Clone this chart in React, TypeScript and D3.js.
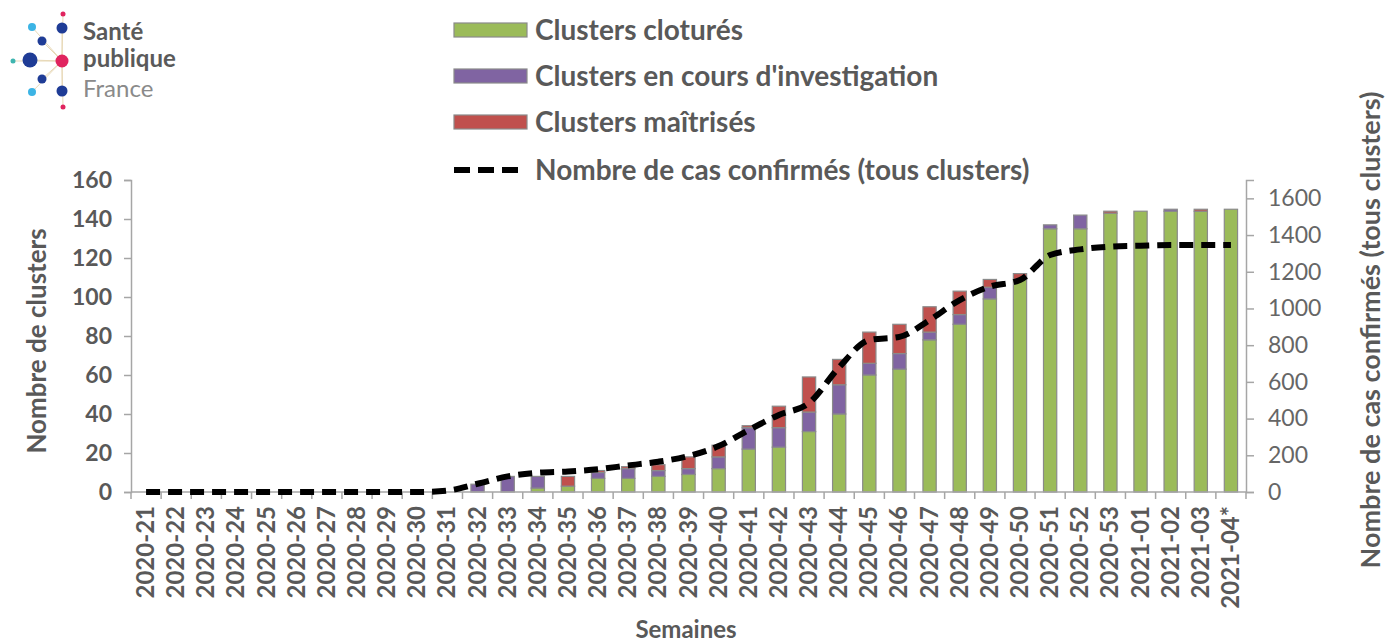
import React, { useEffect, useRef } from "react";
import * as d3 from "d3";

// weeks on the x axis
const weeks = [
  "2020-21", "2020-22", "2020-23", "2020-24", "2020-25", "2020-26", "2020-27",
  "2020-28", "2020-29", "2020-30", "2020-31", "2020-32", "2020-33", "2020-34",
  "2020-35", "2020-36", "2020-37", "2020-38", "2020-39", "2020-40", "2020-41",
  "2020-42", "2020-43", "2020-44", "2020-45", "2020-46", "2020-47", "2020-48",
  "2020-49", "2020-50", "2020-51", "2020-52", "2020-53", "2021-01", "2021-02",
  "2021-03", "2021-04*",
];

// stacked bar series (number of clusters)
const closed = [
  0, 0, 0, 0, 0, 0, 0, 0, 0, 0, 0, 0, 0, 2, 3, 7, 7, 8, 9, 12, 22, 23, 31, 40,
  60, 63, 78, 86, 99, 109, 135, 135, 143, 144, 144, 144, 145,
];
const investigating = [
  0, 0, 0, 0, 0, 0, 0, 0, 0, 0, 0, 4, 8, 6, 0, 3, 5, 3, 3, 6, 11, 10, 10, 15,
  6, 8, 4, 5, 6, 0, 2, 7, 0, 0, 1, 0, 0,
];
const controlled = [
  0, 0, 0, 0, 0, 0, 0, 0, 0, 0, 0, 0, 0, 0, 5, 1, 1, 3, 6, 6, 1, 11, 18, 13,
  16, 15, 13, 12, 4, 3, 0, 0, 1, 0, 0, 1, 0,
];

// confirmed cases, right axis
const cases = [
  0, 0, 0, 0, 0, 0, 0, 0, 0, 0, 8, 45, 85, 105, 112, 124, 145, 165, 196, 250,
  338, 420, 485, 680, 828, 845, 937, 1046, 1119, 1155, 1291, 1322, 1337, 1342,
  1346, 1346, 1346,
];

const leftTicks = [0, 20, 40, 60, 80, 100, 120, 140, 160];
const rightTicks = [0, 200, 400, 600, 800, 1000, 1200, 1400, 1600];

const seriesNames = [
  "Clusters clotur\u00e9s",
  "Clusters en cours d'investigation",
  "Clusters ma\u00eetris\u00e9s",
  "Nombre de cas confirm\u00e9s (tous clusters)",
];
const colors = ["#9BBB59", "#8064A2", "#C0504D"];

const FONT = "Lato, 'Open Sans', sans-serif";
const GREY = "#595959";

const App: React.FC = () => {
  const svgRef = useRef<SVGSVGElement | null>(null);

  useEffect(() => {
    if (!svgRef.current) return;
    const svg = d3.select(svgRef.current);
    svg.selectAll("*").remove();

    const plot = { left: 131, right: 1246, top: 180, bottom: 492 };

    const x = d3.scaleBand<string>()
      .domain(weeks)
      .range([plot.left, plot.right])
      .paddingInner(0.56)
      .paddingOuter(0.28);

    const xBand = d3.scaleBand<string>().domain(weeks).range([plot.left, plot.right]);

    const yL = d3.scaleLinear().domain([0, 160]).range([plot.bottom, plot.top]);
    const yR = d3.scaleLinear().domain([0, 1700]).range([plot.bottom, plot.top]);

    // stack
    const rows = weeks.map((w, i) => ({
      week: w,
      closed: closed[i],
      investigating: investigating[i],
      controlled: controlled[i],
    }));
    const stack = d3.stack<any>().keys(["closed", "investigating", "controlled"]);
    const layers = stack(rows);

    layers.forEach((layer, li) => {
      svg.append("g")
        .selectAll("rect")
        .data(layer.filter(d => d[1] - d[0] > 0))
        .enter()
        .append("rect")
        .attr("x", d => x(d.data.week)!)
        .attr("width", x.bandwidth())
        .attr("y", d => yL(d[1]))
        .attr("height", d => yL(d[0]) - yL(d[1]))
        .attr("fill", colors[li])
        .attr("stroke", "#8a8a8a")
        .attr("stroke-width", 1.2);
    });

    // left axis
    const axL = svg.append("g")
      .attr("transform", `translate(${plot.left},0)`)
      .call(d3.axisLeft(yL).tickValues(leftTicks).tickSize(7).tickPadding(12));
    axL.select(".domain").attr("stroke", "#a6a6a6").attr("stroke-width", 1.5);
    axL.selectAll(".tick line").attr("stroke", "#a6a6a6").attr("stroke-width", 1.5);
    axL.selectAll("text")
      .attr("fill", GREY)
      .style("font-family", FONT)
      .style("font-size", "23px")
      .style("font-weight", "bold");

    // right axis
    const axR = svg.append("g")
      .attr("transform", `translate(${plot.right},0)`)
      .call(d3.axisRight(yR).tickValues(rightTicks).tickFormat(d3.format("d")).tickSize(8).tickPadding(14));
    axR.select(".domain").attr("stroke", "#a6a6a6").attr("stroke-width", 1.5);
    axR.selectAll(".tick line").attr("stroke", "#a6a6a6").attr("stroke-width", 1.5);
    axR.selectAll("text")
      .attr("fill", "#666")
      .style("font-family", FONT)
      .style("font-size", "23px");

    // bottom axis
    const axB = svg.append("g").attr("transform", `translate(0,${plot.bottom})`);
    axB.append("line")
      .attr("x1", plot.left).attr("x2", plot.right)
      .attr("stroke", "#a6a6a6").attr("stroke-width", 1.5);
    axB.selectAll("line.tk")
      .data(weeks.concat(["end"]))
      .enter()
      .append("line")
      .attr("class", "tk")
      .attr("x1", (d, i) => (i < weeks.length ? xBand(d)! : plot.right))
      .attr("x2", (d, i) => (i < weeks.length ? xBand(d)! : plot.right))
      .attr("y1", 0).attr("y2", 7)
      .attr("stroke", "#a6a6a6").attr("stroke-width", 1.5);
    axB.selectAll("text")
      .data(weeks)
      .enter()
      .append("text")
      .attr("transform", d => `translate(${xBand(d)! + xBand.bandwidth() / 2 + 8},14) rotate(-90)`)
      .attr("text-anchor", "end")
      .attr("fill", GREY)
      .style("font-family", FONT)
      .style("font-size", "24px")
      .style("font-weight", "bold")
      .text(d => d);

    // cases line
    const line = d3.line<number>()
      .x((d, i) => xBand(weeks[i])! + xBand.bandwidth() / 2)
      .y(d => yR(d))
      .curve(d3.curveMonotoneX);
    svg.append("path")
      .datum(cases)
      .attr("d", line)
      .attr("fill", "none")
      .attr("stroke", "#000")
      .attr("stroke-width", 6)
      .attr("stroke-dasharray", "14 8");

    // axis titles
    svg.append("text")
      .attr("transform", `translate(46,341) rotate(-90)`)
      .attr("text-anchor", "middle")
      .attr("fill", GREY)
      .style("font-family", FONT).style("font-size", "26px").style("font-weight", "bold")
      .text("Nombre de clusters");
    svg.append("text")
      .attr("transform", `translate(1380,330) rotate(-90)`)
      .attr("text-anchor", "middle")
      .attr("fill", GREY)
      .style("font-family", FONT).style("font-size", "27px").style("font-weight", "bold")
      .text("Nombre de cas confirm\u00e9s (tous clusters)");
    svg.append("text")
      .attr("x", 686).attr("y", 638)
      .attr("text-anchor", "middle")
      .attr("fill", GREY)
      .style("font-family", FONT).style("font-size", "24px").style("font-weight", "bold")
      .text("Semaines");

    // legend
    const legend = svg.append("g");
    const legY = [30, 76, 122, 170];
    seriesNames.forEach((name, i) => {
      if (i < 3) {
        legend.append("rect")
          .attr("x", 454).attr("y", legY[i] - 7)
          .attr("width", 73).attr("height", 14)
          .attr("fill", colors[i])
          .attr("stroke", "#8a8a8a").attr("stroke-width", 1.2);
      } else {
        legend.append("line")
          .attr("x1", 454).attr("x2", 524)
          .attr("y1", legY[i]).attr("y2", legY[i])
          .attr("stroke", "#000").attr("stroke-width", 6)
          .attr("stroke-dasharray", "16 8");
      }
      legend.append("text")
        .attr("x", 535).attr("y", legY[i] + 10)
        .attr("fill", GREY)
        .style("font-family", FONT).style("font-size", "28px").style("font-weight", "bold")
        .text(name);
    });

    // logo
    const logo = svg.append("g");
    const hub = { x: 62, y: 61 };
    const dots = [
      { x: 63, y: 14, r: 2.5, c: "#e0245e" },
      { x: 32, y: 27, r: 4, c: "#3cb4e5" },
      { x: 62, y: 28, r: 5.5, c: "#1f3c96" },
      { x: 42, y: 41, r: 4.5, c: "#1f3c96" },
      { x: 13, y: 61, r: 2.5, c: "#3fb5b0" },
      { x: 30, y: 60, r: 7.5, c: "#1f3c96" },
      { x: 42, y: 79, r: 4.5, c: "#1f3c96" },
      { x: 32, y: 92, r: 4, c: "#3cb4e5" },
      { x: 62, y: 91, r: 5.5, c: "#1f3c96" },
      { x: 63, y: 107, r: 2.5, c: "#e0245e" },
    ];
    dots.forEach(d => {
      logo.append("line")
        .attr("x1", hub.x).attr("y1", hub.y).attr("x2", d.x).attr("y2", d.y)
        .attr("stroke", "#e8d9b8").attr("stroke-width", 1);
    });
    dots.forEach(d => {
      logo.append("circle").attr("cx", d.x).attr("cy", d.y).attr("r", d.r).attr("fill", d.c);
    });
    logo.append("circle").attr("cx", hub.x).attr("cy", hub.y).attr("r", 6.5).attr("fill", "#e0245e");
    logo.append("text").attr("x", 83).attr("y", 40)
      .attr("fill", "#5a5a5a")
      .style("font-family", FONT).style("font-size", "24px").style("font-weight", "bold")
      .text("Sant\u00e9");
    logo.append("text").attr("x", 83).attr("y", 67)
      .attr("fill", "#5a5a5a")
      .style("font-family", FONT).style("font-size", "24px").style("font-weight", "bold")
      .text("publique");
    logo.append("text").attr("x", 83).attr("y", 97)
      .attr("fill", "#8a8a8a")
      .style("font-family", FONT).style("font-size", "24px")
      .text("France");
  }, []);

  return (
    <svg
      ref={svgRef}
      width={1387}
      height={644}
      style={{ position: "absolute", left: 0, top: 0, background: "#fff" }}
    />
  );
};

export default App;
